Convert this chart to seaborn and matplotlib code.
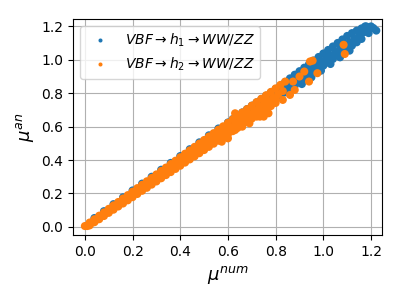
import matplotlib
matplotlib.use("Agg")

import matplotlib.pyplot as plt
import numpy as np
import pandas as pd
import seaborn as sns


LABEL_H1 = r"$VBF \rightarrow h_1 \rightarrow WW/ZZ$"
LABEL_H2 = r"$VBF \rightarrow h_2 \rightarrow WW/ZZ$"

# h1 points (band along the diagonal)
h1_num = [
    0.04, 0.08, 0.12, 0.16, 0.20, 0.24, 0.28, 0.32, 0.36, 0.40, 0.44, 0.48, 0.52, 0.56,
    0.60, 0.62, 0.64, 0.66, 0.68, 0.70, 0.72, 0.74, 0.76, 0.78, 0.80, 0.82, 0.84, 0.86,
    0.88, 0.90, 0.92, 0.94, 0.96, 0.98, 1.00, 1.02, 1.04, 1.06, 1.08, 1.10, 1.12, 1.14,
    1.16, 1.18,
    0.61, 0.63, 0.65, 0.67, 0.69, 0.71, 0.73, 0.75, 0.77, 0.79, 0.81, 0.83, 0.85, 0.87,
    0.89, 0.91, 0.93, 0.95, 0.97, 0.99, 1.01, 1.03, 1.05, 1.07, 1.09, 1.11, 1.13, 1.15,
    1.17, 1.19, 1.21,
    0.80, 0.82, 0.84, 0.86, 0.88, 0.90, 0.92, 0.94, 0.96, 0.98, 1.00, 1.02, 1.04, 1.06,
    1.08, 1.10, 1.12, 1.14, 1.16,
    0.91, 0.95, 0.99, 1.03, 1.07, 1.11,
    1.222, 1.20, 1.175, 1.19,
]
h1_an = [
    0.053, 0.094, 0.136, 0.177, 0.218, 0.259, 0.300, 0.342, 0.383, 0.424, 0.465, 0.506, 0.548, 0.589,
    0.625, 0.645, 0.665, 0.685, 0.705, 0.725, 0.745, 0.765, 0.785, 0.805, 0.825, 0.845, 0.867, 0.889,
    0.911, 0.932, 0.953, 0.975, 0.996, 1.017, 1.038, 1.059, 1.080, 1.101, 1.122, 1.143, 1.160, 1.175,
    1.188, 1.200,
    0.605, 0.625, 0.645, 0.665, 0.685, 0.705, 0.725, 0.745, 0.765, 0.785, 0.805, 0.825, 0.845, 0.865,
    0.885, 0.905, 0.925, 0.945, 0.965, 0.985, 1.005, 1.025, 1.045, 1.065, 1.085, 1.105, 1.125, 1.145,
    1.165, 1.180, 1.190,
    0.765, 0.785, 0.805, 0.825, 0.845, 0.865, 0.885, 0.905, 0.925, 0.945, 0.965, 0.985, 1.005, 1.025,
    1.045, 1.065, 1.085, 1.105, 1.125,
    0.855, 0.895, 0.935, 0.975, 1.015, 1.055,
    1.175, 1.200, 1.200, 1.160,
]

# h2 points
h2_num = [
    0.00, 0.02, 0.04, 0.06, 0.08, 0.10, 0.12, 0.14, 0.16, 0.18, 0.20, 0.22, 0.24, 0.26,
    0.28, 0.30, 0.32, 0.34, 0.36, 0.38, 0.40, 0.42, 0.44, 0.46, 0.48, 0.50, 0.52, 0.54,
    0.56, 0.58, 0.60, 0.62, 0.64, 0.66, 0.68, 0.70, 0.72, 0.74, 0.76, 0.78, 0.80, 0.82,
    0.84,
    0.01, 0.03, 0.05, 0.07, 0.09, 0.11, 0.13, 0.15, 0.17, 0.19, 0.21, 0.23, 0.25, 0.27,
    0.29, 0.31, 0.33, 0.35, 0.37, 0.39, 0.41, 0.43, 0.45, 0.47, 0.49, 0.51, 0.53, 0.55,
    0.57, 0.59, 0.61, 0.63, 0.65, 0.67, 0.69, 0.71, 0.73, 0.75, 0.77, 0.79, 0.81, 0.83,
    0.02, 0.04, 0.06, 0.08, 0.10, 0.12, 0.14, 0.16, 0.18, 0.20, 0.22, 0.24, 0.26, 0.28,
    0.30, 0.32, 0.34, 0.36, 0.38, 0.40, 0.42, 0.44, 0.46, 0.48, 0.50, 0.52, 0.54, 0.56,
    0.58, 0.60, 0.62, 0.64, 0.66, 0.68, 0.70, 0.72, 0.74, 0.76, 0.78, 0.80,
    0.63, 0.734, 0.69, 0.63, 0.60, 0.574, 0.77, 0.76, 0.80, 0.66, 0.72, 0.75, 0.83, 0.86,
    0.88, 0.94, 0.975, 0.955, 1.085, 1.09, 0.90, 0.92, 0.873, 0.944,
]
h2_an = [
    0.005, 0.026, 0.046, 0.067, 0.087, 0.108, 0.129, 0.149, 0.170, 0.190, 0.211, 0.232, 0.252, 0.273,
    0.293, 0.314, 0.335, 0.355, 0.376, 0.396, 0.417, 0.438, 0.458, 0.479, 0.499, 0.520, 0.541, 0.561,
    0.582, 0.602, 0.623, 0.644, 0.664, 0.685, 0.705, 0.726, 0.747, 0.767, 0.788, 0.808, 0.829, 0.850,
    0.870,
    0.005, 0.025, 0.044, 0.064, 0.084, 0.103, 0.123, 0.143, 0.162, 0.182, 0.202, 0.222, 0.241, 0.261,
    0.281, 0.300, 0.320, 0.340, 0.359, 0.379, 0.399, 0.419, 0.438, 0.458, 0.478, 0.497, 0.517, 0.537,
    0.556, 0.576, 0.596, 0.616, 0.635, 0.655, 0.675, 0.694, 0.714, 0.734, 0.753, 0.773, 0.793, 0.813,
    0.009, 0.028, 0.046, 0.065, 0.084, 0.103, 0.122, 0.140, 0.159, 0.178, 0.197, 0.216, 0.234, 0.253,
    0.272, 0.291, 0.310, 0.328, 0.347, 0.366, 0.385, 0.404, 0.422, 0.441, 0.460, 0.479, 0.498, 0.516,
    0.535, 0.554, 0.573, 0.592, 0.610, 0.629, 0.648, 0.667, 0.686, 0.704, 0.723, 0.742,
    0.680, 0.660, 0.620, 0.580, 0.530, 0.510, 0.680, 0.750, 0.760, 0.600, 0.660, 0.660, 0.760, 0.790,
    0.820, 0.870, 0.920, 0.995, 1.090, 1.035, 0.900, 0.930, 0.870, 0.990,
]

df = pd.concat(
    [
        pd.DataFrame({"mu_num": h1_num, "mu_an": h1_an, "process": LABEL_H1}),
        pd.DataFrame({"mu_num": h2_num, "mu_an": h2_an, "process": LABEL_H2}),
    ],
    ignore_index=True,
)

fig = plt.figure(figsize=(4, 3), dpi=100)
ax = fig.add_axes([0.183, 0.217, 0.772, 0.72])

sns.scatterplot(
    data=df,
    x="mu_num",
    y="mu_an",
    hue="process",
    hue_order=[LABEL_H1, LABEL_H2],
    palette=["tab:blue", "tab:orange"],
    s=34,
    linewidth=0,
    ax=ax,
)

ax.set_xlim(-0.049, 1.246)
ax.set_ylim(-0.048, 1.245)
ax.set_xticks(np.arange(0, 1.21, 0.2))
ax.set_yticks(np.arange(0, 1.21, 0.2))
ax.grid(True)
ax.set_axisbelow(True)
ax.set_xlabel(r"$\mu^{num}$", fontsize=13)
ax.set_ylabel(r"$\mu^{an}$", fontsize=13)
ax.legend(loc="upper left", fontsize=10, markerscale=0.5, title=None)

fig.savefig("out.png", dpi=100)
plt.close(fig)
